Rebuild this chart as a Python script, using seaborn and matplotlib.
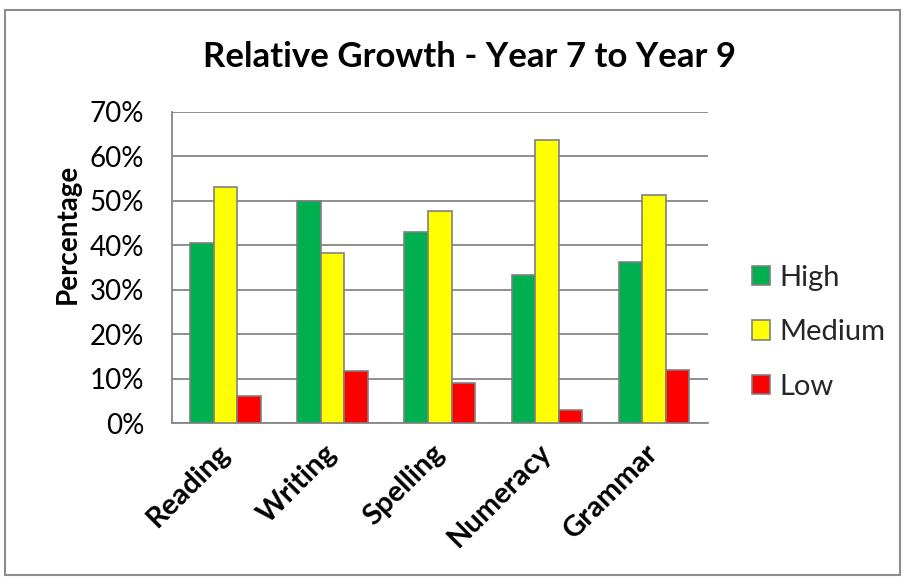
import pandas as pd
import seaborn as sns
import matplotlib.pyplot as plt
from matplotlib.patches import Rectangle
from matplotlib.ticker import PercentFormatter

subjects = ["Reading", "Writing", "Spelling", "Numeracy", "Grammar"]
levels = ["High", "Medium", "Low"]
high = [40.6, 49.9, 43.1, 33.3, 36.3]
medium = [53.1, 38.2, 47.7, 63.6, 51.4]
low = [6.1, 11.7, 9.0, 3.0, 12.0]
level_colors = ["#00B050", "#FFFF00", "#FF0000"]

df = pd.DataFrame({"Subject": subjects * 3,
                   "Level": [l for l in levels for _ in subjects],
                   "Value": high + medium + low})

sns.set_theme(style="white")
plt.rcParams["font.family"] = ["Lato", "DejaVu Sans"]

fig = plt.figure(figsize=(9.05, 5.8), dpi=100)
ax = fig.add_axes([0.19, 0.27, 0.592, 0.537])

sns.barplot(data=df, x="Subject", y="Value", hue="Level", hue_order=levels,
            palette=level_colors, width=0.66, edgecolor="#808080", linewidth=1.2,
            saturation=1, ax=ax, zorder=3)

ax.set_ylim(0, 70)
ax.set_yticks(range(0, 71, 10))
ax.yaxis.set_major_formatter(PercentFormatter(decimals=0))
ax.grid(axis="y", color="#868686", linewidth=1.3, zorder=0)
ax.set_axisbelow(True)
for side in ["top", "right"]:
    ax.spines[side].set_visible(False)
for side in ["left", "bottom"]:
    ax.spines[side].set_color("#868686")
    ax.spines[side].set_linewidth(1.3)
ax.tick_params(axis="y", labelsize=20, length=0, pad=20, labelcolor="black")
ax.tick_params(axis="x", length=0, pad=18)
ax.set_xticks(range(len(subjects)))
ax.set_xticklabels(subjects, rotation=45, ha="right", va="center", rotation_mode="anchor",
                   fontsize=21, fontweight="bold", color="black")
ax.set_xlabel("")
ax.set_ylabel("Percentage", fontsize=20, fontweight="bold", color="black")
ax.yaxis.set_label_coords(-0.17, 0.61)

fig.text(0.519, 0.902, "Relative Growth - Year 7 to Year 9", fontsize=25,
         fontweight="bold", color="black", ha="center", va="center")

leg = ax.legend(loc="center left", bbox_to_anchor=(1.06, 0.293), frameon=False,
                fontsize=21, handlelength=0.65, handleheight=0.65,
                labelspacing=0.98, handletextpad=0.3, borderaxespad=0)
for h in leg.legend_handles:
    h.set_edgecolor("#808080")

fig.patches.append(Rectangle((0.006, 0.008), 0.988, 0.975, transform=fig.transFigure,
                             fill=False, edgecolor="#8c8c8c", linewidth=1.5))

fig.savefig("out.png", dpi=100)
